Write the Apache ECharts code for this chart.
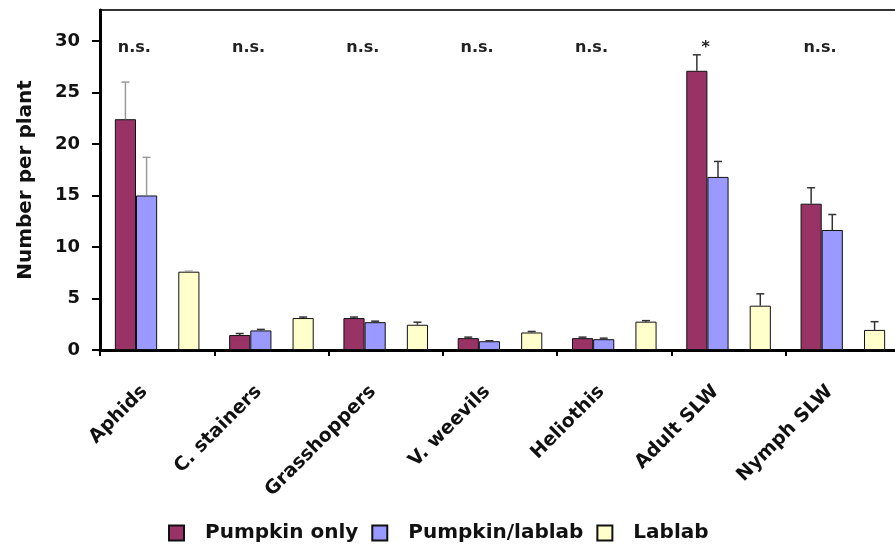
<!DOCTYPE html>
<html>
<head>
<meta charset="utf-8">
<script src="https://cdn.jsdelivr.net/npm/echarts@6/dist/echarts.min.js"></script>
<style>
html,body{margin:0;padding:0;background:#fff;overflow:hidden;}
#chart{width:895px;height:545px;}
</style>
</head>
<body>
<div id="chart"></div>
<script>
const categories = ['Aphids', 'C. stainers', 'Grasshoppers', 'V. weevils', 'Heliothis', 'Adult SLW', 'Nymph SLW'];
const pumpkinOnly = [22.4, 1.45, 3.1, 1.15, 1.15, 27.1, 14.2];
const pumpkinOnlyErr = [3.6, 0.15, 0.1, 0.1, 0.1, 1.55, 1.55];
const pumpkinLablab = [15.0, 1.9, 2.7, 0.85, 1.05, 16.8, 11.65];
const pumpkinLablabErr = [3.7, 0.1, 0.1, 0.05, 0.1, 1.5, 1.5];
const lablab = [7.6, 3.1, 2.45, 1.7, 2.75, 4.3, 1.95];
const lablabErr = [0.05, 0.1, 0.25, 0.1, 0.1, 1.15, 0.8];
const significance = ['n.s.', 'n.s.', 'n.s.', 'n.s.', 'n.s.', '*', 'n.s.'];
const seriesNames = ['Pumpkin only', 'Pumpkin/lablab', 'Lablab'];
const yTicks = {min: 0, max: 33, interval: 5};

const FONT = 'DejaVu Sans';
const CAT_GAP = 0.26;
const SLOTS = 4;
const ANNOT_Y = 29.3;

const chart = echarts.init(document.getElementById('chart'), null, {renderer: 'canvas'});

function slotX(api, catIdx, slot) {
  const c = api.coord([catIdx, 0]);
  const band = api.size([1, 0])[0];
  const bw = band * (1 - CAT_GAP) / SLOTS;
  return c[0] - (SLOTS / 2) * bw + (slot + 0.5) * bw;
}

function errSeries(vals, errs, slot) {
  return {
    type: 'custom',
    silent: true,
    z: 5,
    encode: {x: 0, y: 1},
    data: vals.map((v, i) => [i, v, errs[i]]),
    renderItem: function (params, api) {
      const i = api.value(0), v = api.value(1), e = api.value(2);
      const x = slotX(api, i, slot);
      const y0 = api.coord([i, v])[1];
      const y1 = api.coord([i, v + e])[1];
      const col = i === 0 ? '#9a9a9a' : '#333';
      const cap = 4;
      return {
        type: 'group',
        children: [
          {type: 'line', shape: {x1: x, y1: y0, x2: x, y2: y1}, style: {stroke: col, lineWidth: 1.5}},
          {type: 'line', shape: {x1: x - cap, y1: y1, x2: x + cap, y2: y1}, style: {stroke: col, lineWidth: 1.5}}
        ]
      };
    }
  };
}

const barBase = {type: 'bar', barGap: 0, barCategoryGap: (CAT_GAP * 100) + '%'};

const option = {
  animation: false,
  backgroundColor: '#fff',
  grid: {left: 100, width: 800, top: 10, height: 340, outerBoundsMode: 'none', containLabel: false, show: true, borderColor: '#333', borderWidth: 2, backgroundColor: 'transparent'},
  legend: {
    data: seriesNames,
    top: 518,
    left: 163,
    itemWidth: 15,
    itemHeight: 15,
    itemGap: 13,
    icon: 'rect',
    textStyle: {fontFamily: FONT, fontWeight: 'bold', fontSize: 20, color: '#111', padding: [0, 0, 0, 16]}
  },
  xAxis: {
    type: 'category',
    data: categories,
    axisLine: {lineStyle: {color: '#000', width: 3}},
    axisTick: {show: true, length: 6, lineStyle: {color: '#000', width: 2}},
    axisLabel: {rotate: 45, interval: 0, margin: 26, padding: [0, 18, 0, 0], fontFamily: FONT, fontWeight: 'bold', fontSize: 19, color: '#111'}
  },
  yAxis: {
    type: 'value',
    min: yTicks.min,
    max: yTicks.max,
    interval: yTicks.interval,
    name: 'Number per plant',
    nameLocation: 'middle',
    nameGap: 64,
    nameTextStyle: {fontFamily: FONT, fontWeight: 'bold', fontSize: 20, color: '#111'},
    splitLine: {show: false},
    axisLine: {show: true, lineStyle: {color: '#000', width: 3}},
    axisTick: {show: true, length: 8, lineStyle: {color: '#000', width: 2}},
    axisLabel: {margin: 20, showMaxLabel: false, fontFamily: FONT, fontWeight: 'bold', fontSize: 18, color: '#111'}
  },
  series: [
    Object.assign({}, barBase, {name: seriesNames[0], data: pumpkinOnly, itemStyle: {color: '#993366', borderColor: '#111', borderWidth: 1}}),
    Object.assign({}, barBase, {name: seriesNames[1], data: pumpkinLablab, itemStyle: {color: '#9999ff', borderColor: '#111', borderWidth: 1}}),
    Object.assign({}, barBase, {name: 'spacer', data: categories.map(() => null), itemStyle: {color: 'transparent'}}),
    Object.assign({}, barBase, {name: seriesNames[2], data: lablab, itemStyle: {color: '#ffffcc', borderColor: '#111', borderWidth: 1}}),
    errSeries(pumpkinOnly, pumpkinOnlyErr, 0),
    errSeries(pumpkinLablab, pumpkinLablabErr, 1),
    errSeries(lablab, lablabErr, 3),
    {
      type: 'custom',
      silent: true,
      z: 6,
      data: significance.map((t, i) => [i, ANNOT_Y, t]),
      encode: {x: 0, y: 1},
      renderItem: function (params, api) {
        const i = api.value(0);
        const band = api.size([1, 0])[0];
        const c = api.coord([i, ANNOT_Y]);
        return {
          type: 'text',
          x: c[0] - 0.2 * band,
          y: c[1],
          style: {text: significance[i], fill: '#222', font: 'bold 16px "' + FONT + '"', align: 'center', verticalAlign: 'middle'}
        };
      }
    }
  ]
};
chart.setOption(option);
</script>
</body>
</html>
